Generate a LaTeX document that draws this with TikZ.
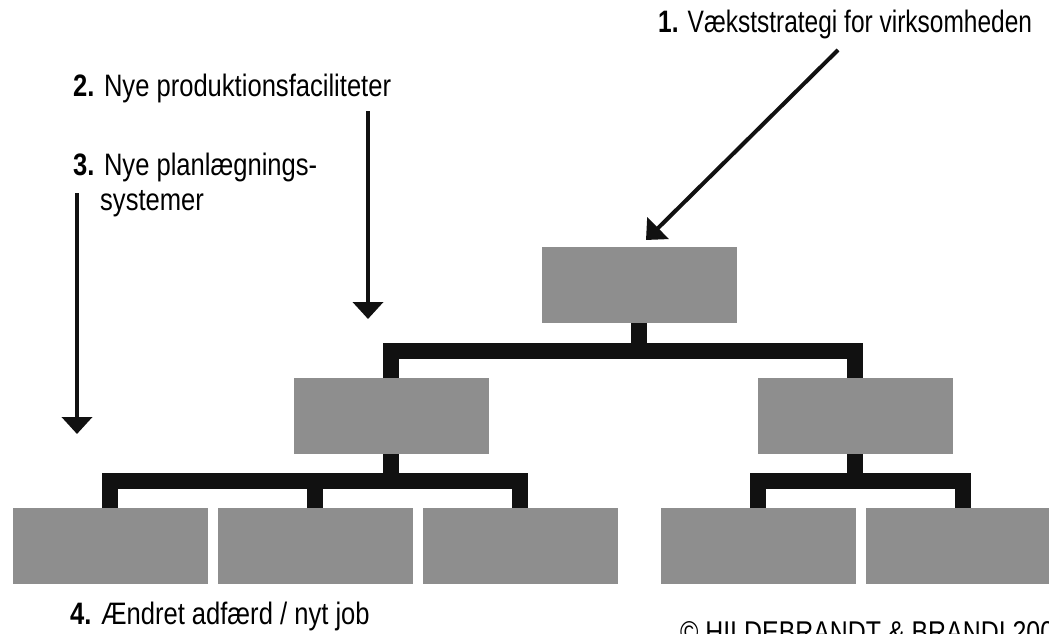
\documentclass[tikz,border=0pt]{standalone}
\usepackage{fontspec}
\setmainfont[FakeStretch=0.825]{Liberation Sans}
\newfontfamily\narrowfont[FakeStretch=0.79]{Liberation Sans}
\newfontfamily\creditfont[FakeStretch=0.83]{Liberation Sans}
\usetikzlibrary{arrows.meta}
\definecolor{boxgray}{HTML}{8E8E8E}
\definecolor{ink}{HTML}{111111}
\begin{document}
\begin{tikzpicture}[x=1pt,y=-1pt,
  unit/.style={fill=boxgray, minimum width=195pt, minimum height=76pt, inner sep=0pt, outer sep=0pt},
  conn/.style={draw=ink, line width=16pt, line join=miter},
  pointer/.style={draw=ink, line width=4pt, -{Triangle[width=30pt,length=17pt]}},
  lbl/.style={anchor=base west, inner sep=0pt, font=\fontsize{31}{35}\selectfont}]
\clip (0,0) rectangle (1049,634);
\fill[white] (0,0) rectangle (1049,634);

% organisation chart
\node[unit] (top) at (639,285) {};
\node[unit] (ml) at (391,416) {};
\node[unit] (mr) at (855,416) {};
\node[unit] (b1) at (110,546) {};
\node[unit] (b2) at (315,546) {};
\node[unit] (b3) at (520,546) {};
\node[unit] (b4) at (758,546) {};
\node[unit] (b5) at (963,546) {};

\draw[conn] (top.south) -- ++(0,28);
\draw[conn] (ml.north) -- ++(0,-27) -| (mr.north);
\draw[conn] (ml.south) -- ++(0,27);
\draw[conn] (b1.north) -- ++(0,-27) -| (b3.north);
\draw[conn] (b2.north) -- ++(0,-27);
\draw[conn] (mr.south) -- ++(0,27);
\draw[conn] (b4.north) -- ++(0,-27) -| (b5.north);

% labels
\node[lbl, font=\fontsize{31}{35}\narrowfont] (l1) at (658,33) {\textbf{1.} Vækststrategi for virksomheden};
\node[lbl] (l2) at (73,96) {\textbf{2.} Nye produktionsfaciliteter};
\node[lbl] (l3) at (73,175) {\textbf{3.} Nye planlægnings-};
\node[lbl] (l3b) at (100,210) {systemer};
\node[lbl] (l4) at (70,624) {\textbf{4.} Ændret adfærd / nyt job};
\node[lbl, font=\fontsize{30}{35}\creditfont] (cr) at (680,642) {© HILDEBRANDT \& BRANDI 2009};

% pointers
\coordinate (p1s) at (838,50);
\coordinate (p1e) at (646,240);
\coordinate (p2s) at (368,111);
\coordinate (p2e) at (368,319);
\coordinate (p3s) at (77,193);
\coordinate (p3e) at (77,434);
\draw[pointer] (p1s) -- (p1e);
\draw[pointer] (p2s) -- (p2e);
\draw[pointer] (p3s) -- (p3e);
\end{tikzpicture}
\end{document}
